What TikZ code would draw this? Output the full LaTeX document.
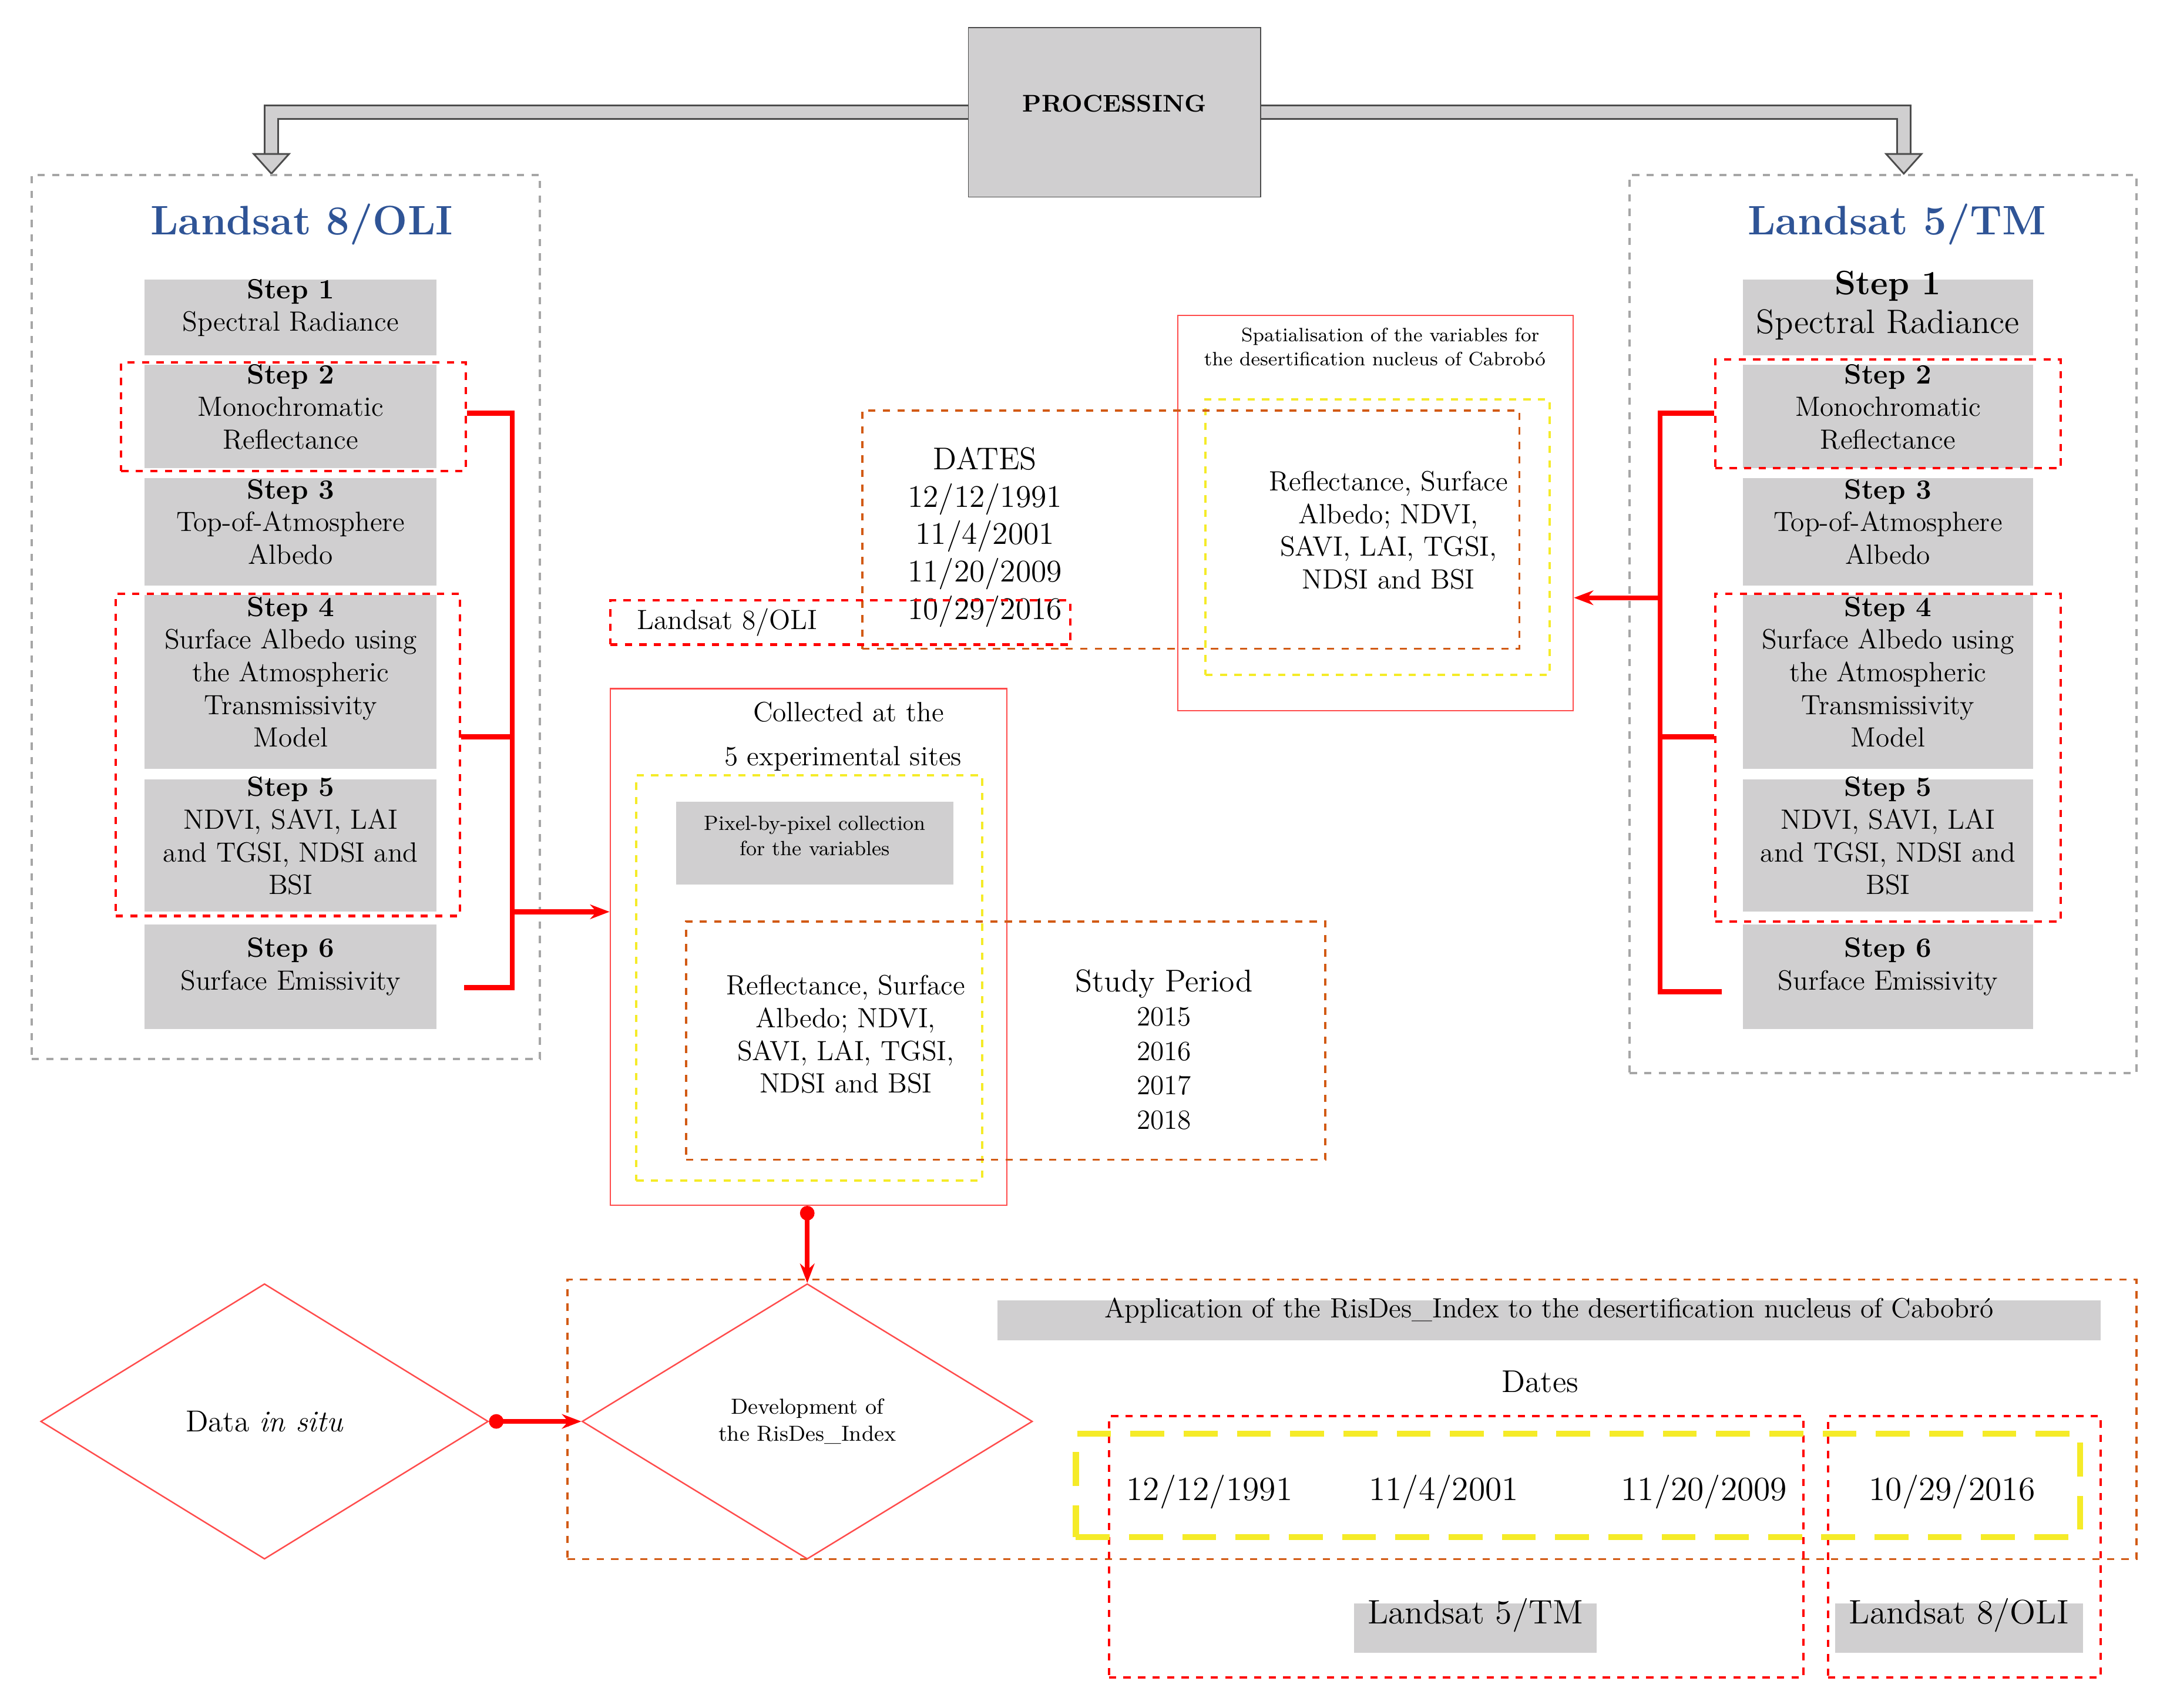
\documentclass[tikz,border=0pt]{standalone}
\usepackage{tikz}
\usetikzlibrary{fit,arrows.meta,shapes.geometric}
\definecolor{boxgray}{RGB}{208,207,208}
\definecolor{titleblue}{RGB}{47,84,150}
\definecolor{dashorange}{RGB}{210,90,20}
\definecolor{dashyellow}{RGB}{245,235,40}
\begin{document}
\begin{tikzpicture}[x=0.02cm,y=-0.02cm,
  stepbox/.style={fill=boxgray, inner sep=0, align=center, font=\fontsize{11.5}{13.5}\selectfont},
  reddash/.style={draw=red, dashed, line width=1pt, inner sep=0},
  orgdash/.style={draw=dashorange, dashed, line width=0.9pt, inner sep=0},
  yeldash/.style={draw=dashyellow, dashed, line width=1pt, inner sep=0},
  graydash/.style={draw=gray!70, dashed, line width=0.9pt, inner sep=0},
  thinred/.style={draw=red!70, line width=0.6pt, inner sep=0},
  bracket/.style={draw=red, line width=2pt},
  procarrow/.style={draw=gray!60!black, double=boxgray, double distance=5pt, line width=0.7pt,
    -{Triangle[width=16pt,length=9pt,fill=boxgray,color=gray!60!black,line width=0.7pt]}},
  title/.style={font=\fontsize{17}{20}\selectfont\bfseries, text=titleblue},
  txt/.style={align=center, font=\fontsize{11.5}{13.5}\selectfont}]
\useasboundingbox (0,0) rectangle (1568,1240);
% processing
\node[fill=boxgray, draw=gray!60!black, inner sep=0, font=\bfseries, fit={(703,20)(915,143)}] (proc) {PROCESSING};
\coordinate (oliin) at (197,127);
\coordinate (tmin) at (1382,127);
\draw[procarrow] (proc.west) -| (oliin);
\draw[procarrow] (proc.east) -| (tmin);
% left column
\node[graydash, fit={(23,127)(392,769)}] (olibox) {};
\node[title] at (219,163) {Landsat 8/OLI};
\node[stepbox, fit={(105,203)(317,258)}] (o1) {\textbf{Step 1}\\Spectral Radiance};
\node[stepbox, fit={(105,265)(317,340)}] (o2) {\textbf{Step 2}\\Monochromatic\\Reflectance};
\node[stepbox, fit={(105,347)(317,425)}] (o3) {\textbf{Step 3}\\Top-of-Atmosphere\\Albedo};
\node[stepbox, fit={(105,432)(317,558)}] (o4) {\textbf{Step 4}\\Surface Albedo using\\the Atmospheric\\Transmissivity\\Model};
\node[stepbox, fit={(105,566)(317,662)}] (o5) {\textbf{Step 5}\\NDVI, SAVI, LAI\\and TGSI, NDSI and\\BSI};
\node[stepbox, fit={(105,671)(317,747)}] (o6) {\textbf{Step 6}\\Surface Emissivity};
\node[reddash, fit={(88,263)(338,342)}] (o2d) {};
\node[reddash, fit={(84,431)(334,665)}] (o45d) {};
% right column
\node[graydash, fit={(1183,127)(1551,779)}] (tmbox) {};
\node[title] at (1377,163) {Landsat 5/TM};
\node[stepbox, fit={(1265,203)(1476,258)}, font=\fontsize{14}{16}\selectfont] (t1) {\textbf{Step 1}\\Spectral Radiance};
\node[stepbox, fit={(1265,265)(1476,340)}] (t2) {\textbf{Step 2}\\Monochromatic\\Reflectance};
\node[stepbox, fit={(1265,347)(1476,425)}] (t3) {\textbf{Step 3}\\Top-of-Atmosphere\\Albedo};
\node[stepbox, fit={(1265,432)(1476,558)}] (t4) {\textbf{Step 4}\\Surface Albedo using\\the Atmospheric\\Transmissivity\\Model};
\node[stepbox, fit={(1265,566)(1476,662)}] (t5) {\textbf{Step 5}\\NDVI, SAVI, LAI\\and TGSI, NDSI and\\BSI};
\node[stepbox, fit={(1265,671)(1476,747)}] (t6) {\textbf{Step 6}\\Surface Emissivity};
\node[reddash, fit={(1245,261)(1496,340)}] (t2d) {};
\node[reddash, fit={(1245,431)(1496,669)}] (t45d) {};
% spatialisation
\node[thinred, fit={(855,229)(1142,516)}] (spat) {};
\node[align=center, font=\fontsize{8}{10}\selectfont] at (998,252) {\hspace*{1.6em}Spatialisation of the variables for\\the desertification nucleus of Cabrob\'o};
\node[yeldash, fit={(875,290)(1125,490)}] (spaty) {};
\node[orgdash, fit={(626,298)(1103,471)}] (dated) {};
\node[txt] at (1008,385) {Reflectance, Surface\\Albedo; NDVI,\\SAVI, LAI, TGSI,\\NDSI and BSI};
\node[align=center, font=\fontsize{13}{15.5}\selectfont] at (715,390) {DATES\\12/12/1991\\11/4/2001\\11/20/2009\\10/29/2016};
\node[reddash, fit={(443,436)(777,468)}] (oli16) {};
\node[txt] at (528,452) {Landsat 8/OLI};
% collected
\node[thinred, fit={(443,500)(731,875)}] (coll) {};
\node[txt] at (616,517) {Collected at the};
\node[txt] at (612,551) {5 experimental sites};
\node[yeldash, fit={(462,563)(713,857)}] (colly) {};
\node[stepbox, fit={(491,582)(692,642)}, font=\fontsize{8.5}{10.5}\selectfont] (pix) {Pixel-by-pixel collection\\for the variables};
\node[orgdash, fit={(498,669)(962,842)}] (studyd) {};
\node[txt] at (614,751) {Reflectance, Surface\\Albedo; NDVI,\\SAVI, LAI, TGSI,\\NDSI and BSI};
\node[align=center, font=\fontsize{11.5}{14.2}\selectfont] at (845,762) {{\fontsize{13}{15}\selectfont Study Period}\\2015\\2016\\2017\\2018};
% brackets
\coordinate (lb1) at (372,300); \coordinate (lb2) at (372,717);
\draw[bracket] (o2d.east |- lb1) -- (lb1) -- (lb2) -- (337,717);
\draw[bracket] (o45d.east |- 0,535) -- (372,535);
\draw[bracket, -{Stealth[length=8pt]}] (372,662) -- (coll.west |- 0,662);
\coordinate (rb1) at (1205,300); \coordinate (rb2) at (1205,720);
\draw[bracket] (t2d.west |- rb1) -- (rb1) -- (rb2) -- (1250,720);
\draw[bracket] (t45d.west |- 0,535) -- (1205,535);
\draw[bracket, -{Stealth[length=8pt]}] (1205,434) -- (spat.east |- 0,434);
% bottom
\node[orgdash, fit={(412,929)(1551,1132)}] (appd) {};
\node[diamond, draw=red!70, line width=0.6pt, minimum width=6.5cm, minimum height=4cm, inner sep=0, font=\fontsize{12.5}{15}\selectfont] (insitu) at (192,1032) {Data \textit{in situ}};
\node[diamond, draw=red!70, line width=0.6pt, minimum width=6.54cm, minimum height=4cm, inner sep=0, align=center, font=\fontsize{9}{11}\selectfont] (dev) at (586,1032) {Development of\\the RisDes\_Index};
\draw[bracket, {Circle[length=6pt]}-{Stealth[length=8pt]}] (coll.south -| 586,0) -- (dev.north);
\draw[bracket, {Circle[length=6pt]}-{Stealth[length=8pt]}] (insitu.east) -- (dev.west);
\node[stepbox, fit={(724,944)(1525,973)}, font=\fontsize{11.5}{13}\selectfont] (app) {Application of the RisDes\_Index to the desertification nucleus of Cabobr\'o};
\node[font=\fontsize{13}{15}\selectfont] at (1118,1003) {Dates};
\node[reddash, fit={(805,1028)(1309,1218)}] (tmd) {};
\node[reddash, fit={(1327,1028)(1525,1218)}] (olid) {};
\node[yeldash, line width=2.5pt, dash pattern=on 14pt off 8pt, fit={(781,1041)(1510,1116)}] (datey) {};
\foreach \x/\d in {878/12\slash12\slash1991, 1048/11\slash4\slash2001, 1237/11\slash20\slash2009, 1417/10\slash29\slash2016}
  \node[font=\fontsize{14}{16}\selectfont] at (\x,1083) {\d};
\node[stepbox, fit={(983,1164)(1159,1200)}, font=\fontsize{14}{16}\selectfont] (tmlab) {Landsat 5/TM};
\node[stepbox, fit={(1332,1164)(1512,1200)}, font=\fontsize{14}{16}\selectfont] (olilab) {Landsat 8/OLI};
\end{tikzpicture}
\end{document}
